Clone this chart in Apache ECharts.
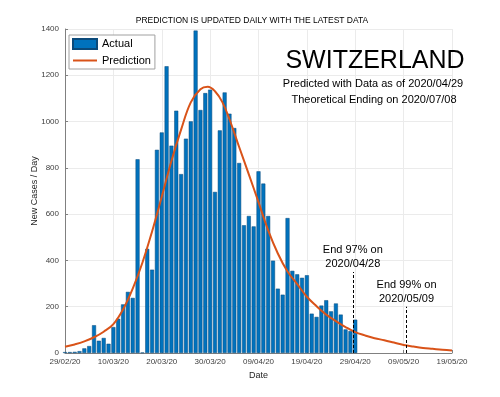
<!DOCTYPE html>
<html><head><meta charset="utf-8">
<script src="https://cdn.jsdelivr.net/npm/echarts@6/dist/echarts.min.js"></script>
<style>html,body{margin:0;padding:0;background:#fff}#c{width:500px;height:397px}</style>
</head><body><div id="c"></div>
<script>
// Daily new cases, starting 29/02/20 (day 0)
const actualCases = [4,4,5,8,20,30,120,53,65,40,112,148,210,264,238,837,2,450,360,878,
  953,1239,896,1047,773,926,1001,1393,1050,1123,1138,696,962,1126,1034,972,821,552,592,547,
  785,732,592,399,278,252,583,355,340,325,336,170,156,205,228,180,214,166,102,95,144];
// Prediction curve (day number since 29/02/20, cases/day)
const predDays =   [0,2,4,6,8,10,12,14,16,18,20,22,24,26,28,29.5,31,32.5,34,36,38,40,42,44,46,48,50,52,54,56,58,60,62,64,66,68,70,72,74,76,78,80];
const predValues = [27,37,50,68,92,125,188,278,390,525,675,830,965,1083,1140,1150,1131,1085,1010,890,772,652,530,430,352,298,243,202,166,138,112,90,76,64,55,45,35,28,22,18,14,11];
const xTickLabels = ['29/02/20','10/03/20','20/03/20','30/03/20','09/04/20','19/04/20','29/04/20','09/05/20','19/05/20'];
const yTicks = [0,200,400,600,800,1000,1200,1400];
const endLabels = ['End 97% on\n2020/04/28','End 99% on\n2020/05/09'];
const endDays = [59.5, 70.6];
const endHeights = [350, 200];

const chart = echarts.init(document.getElementById('c'));
const FONT = '"Liberation Sans", Arial, sans-serif';
chart.setOption({
  animation:false,
  textStyle:{fontFamily:FONT},
  grid:{left:65,right:48,top:29,bottom:44},
  legend:{
    left:69, top:35, orient:'vertical', itemWidth:24, itemHeight:10, itemGap:5,
    backgroundColor:'#fff', borderColor:'#a0a0a0', borderWidth:1, padding:[3,4,3,3],
    textStyle:{fontSize:11, color:'#000', fontFamily:FONT},
    data:[{name:'Actual', icon:'rect'},{name:'Prediction', icon:'path://M0 0 H24 V2 H0 Z'}]
  },
  xAxis:{
    type:'value', min:0, max:80, interval:10,
    name:'Date', nameLocation:'middle', nameGap:18, nameMoveOverlap:false,
    nameTextStyle:{fontSize:9,color:'#262626'},
    axisLine:{lineStyle:{color:'#808080'}},
    axisTick:{inside:true,length:3,lineStyle:{color:'#808080'}},
    axisLabel:{fontSize:8,color:'#404040',margin:5,formatter:v=>xTickLabels[Math.round(v/10)]||''},
    splitLine:{show:true,lineStyle:{color:'#ebebeb'}}
  },
  yAxis:{
    type:'value', min:yTicks[0], max:yTicks[yTicks.length-1], interval:200,
    name:'New Cases / Day', nameLocation:'middle', nameGap:26, nameMoveOverlap:false,
    nameTextStyle:{fontSize:9,color:'#262626'},
    axisLine:{show:true,lineStyle:{color:'#808080'}},
    axisTick:{show:true,inside:true,length:3,lineStyle:{color:'#808080'}},
    axisLabel:{fontSize:8,color:'#404040',margin:6,formatter:v=>String(v)},
    splitLine:{show:true,lineStyle:{color:'#ebebeb'}}
  },
  graphic:[
    {type:'text',x:252,y:21,z:100,style:{text:'PREDICTION IS UPDATED DAILY WITH THE LATEST DATA',font:'8.5px '+FONT,fill:'#000',textAlign:'center',textVerticalAlign:'middle'}},
    {type:'text',x:375,y:61,z:100,style:{text:'SWITZERLAND',font:'25px '+FONT,fill:'#000',textAlign:'center',textVerticalAlign:'middle'}},
    {type:'text',x:373,y:84,z:100,style:{text:'Predicted with Data as of 2020/04/29',font:'11px '+FONT,fill:'#000',textAlign:'center',textVerticalAlign:'middle'}},
    {type:'text',x:374,y:100,z:100,style:{text:'Theoretical Ending on 2020/07/08',font:'11px '+FONT,fill:'#000',textAlign:'center',textVerticalAlign:'middle'}}
  ],
  series:[
    {name:'Actual', type:'bar', barWidth:4,
     data:actualCases.map((v,i)=>[i,v]),
     itemStyle:{color:'#0072BD',borderColor:'#0b4a7a',borderWidth:0.5},
     markLine:{silent:true,symbol:'none',
       lineStyle:{color:'#000',type:[3,2],width:1},
       label:{show:true,position:'end',fontSize:11,color:'#000',lineHeight:14,distance:1,formatter:p=>p.data.labelText},
       data:endDays.map((d,i)=>[{coord:[d,0],labelText:endLabels[i]},{coord:[d,endHeights[i]]}])
     }},
    {name:'Prediction', type:'line', smooth:0.4, symbol:'none',
     data:predDays.map((d,i)=>[d,predValues[i]]),
     lineStyle:{color:'#D95319',width:2}, itemStyle:{color:'#D95319'}, z:3}
  ]
});
</script></body></html>
